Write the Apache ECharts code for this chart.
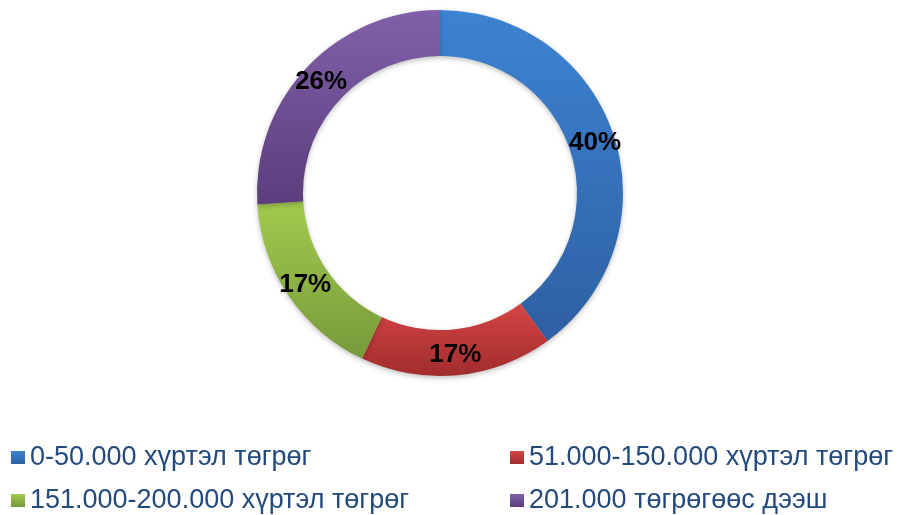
<!DOCTYPE html>
<html>
<head>
<meta charset="utf-8">
<script src="https://cdn.jsdelivr.net/npm/echarts@6/dist/echarts.min.js"></script>
<style>html,body{margin:0;padding:0;background:#fff;}#c{width:900px;height:515px;}</style>
</head>
<body>
<div id="c"></div>
<script>
var categories = ['0-50.000 хүртэл төгрөг', '51.000-150.000 хүртэл төгрөг', '151.000-200.000 хүртэл төгрөг', '201.000 төгрөгөөс дээш'];
var values = [40, 17, 17, 26];
var colorTop = ['#3d83d2', '#d44545', '#a3ca4e', '#8160aa'];
var colorBottom = ['#2e60a2', '#a12c2c', '#76993a', '#5b3d7c'];

function grad(i) {
  return new echarts.graphic.LinearGradient(0, 0, 0, 1, [
    { offset: 0, color: colorTop[i] },
    { offset: 1, color: colorBottom[i] }
  ]);
}

var chart = echarts.init(document.getElementById('c'), null, { renderer: 'canvas' });
var legendText = { fontFamily: 'Arial, "Liberation Sans", sans-serif', fontSize: 27, color: '#234a7d', lineHeight: 27 };
var legendPos = [[11, 444], [510, 444], [11, 487], [510, 487]];
var legends = categories.map(function (c, i) {
  return {
    data: [c], orient: 'horizontal', left: legendPos[i][0], top: legendPos[i][1], padding: 0,
    itemWidth: 14, itemHeight: 13, icon: 'rect', textStyle: legendText, selectedMode: false
  };
});
chart.setOption({
  animation: false,
  legend: legends,
  series: [{
    type: 'pie',
    center: [440, 193],
    radius: [137, 183],
    startAngle: 90,
    clockwise: true,
    silent: true,
    label: {
      show: true,
      position: 'inside',
      formatter: function (p) { return p.value + '%'; },
      fontFamily: 'Arial, "Liberation Sans", sans-serif',
      fontWeight: 'bold',
      fontSize: 26,
      color: '#000'
    },
    labelLine: { show: false },
    itemStyle: { shadowBlur: 5, shadowColor: 'rgba(0,0,0,0.25)', shadowOffsetY: 2 },
    data: categories.map(function (c, i) {
      return { name: c, value: values[i], itemStyle: { color: grad(i) } };
    })
  }]
});
</script>
</body>
</html>
